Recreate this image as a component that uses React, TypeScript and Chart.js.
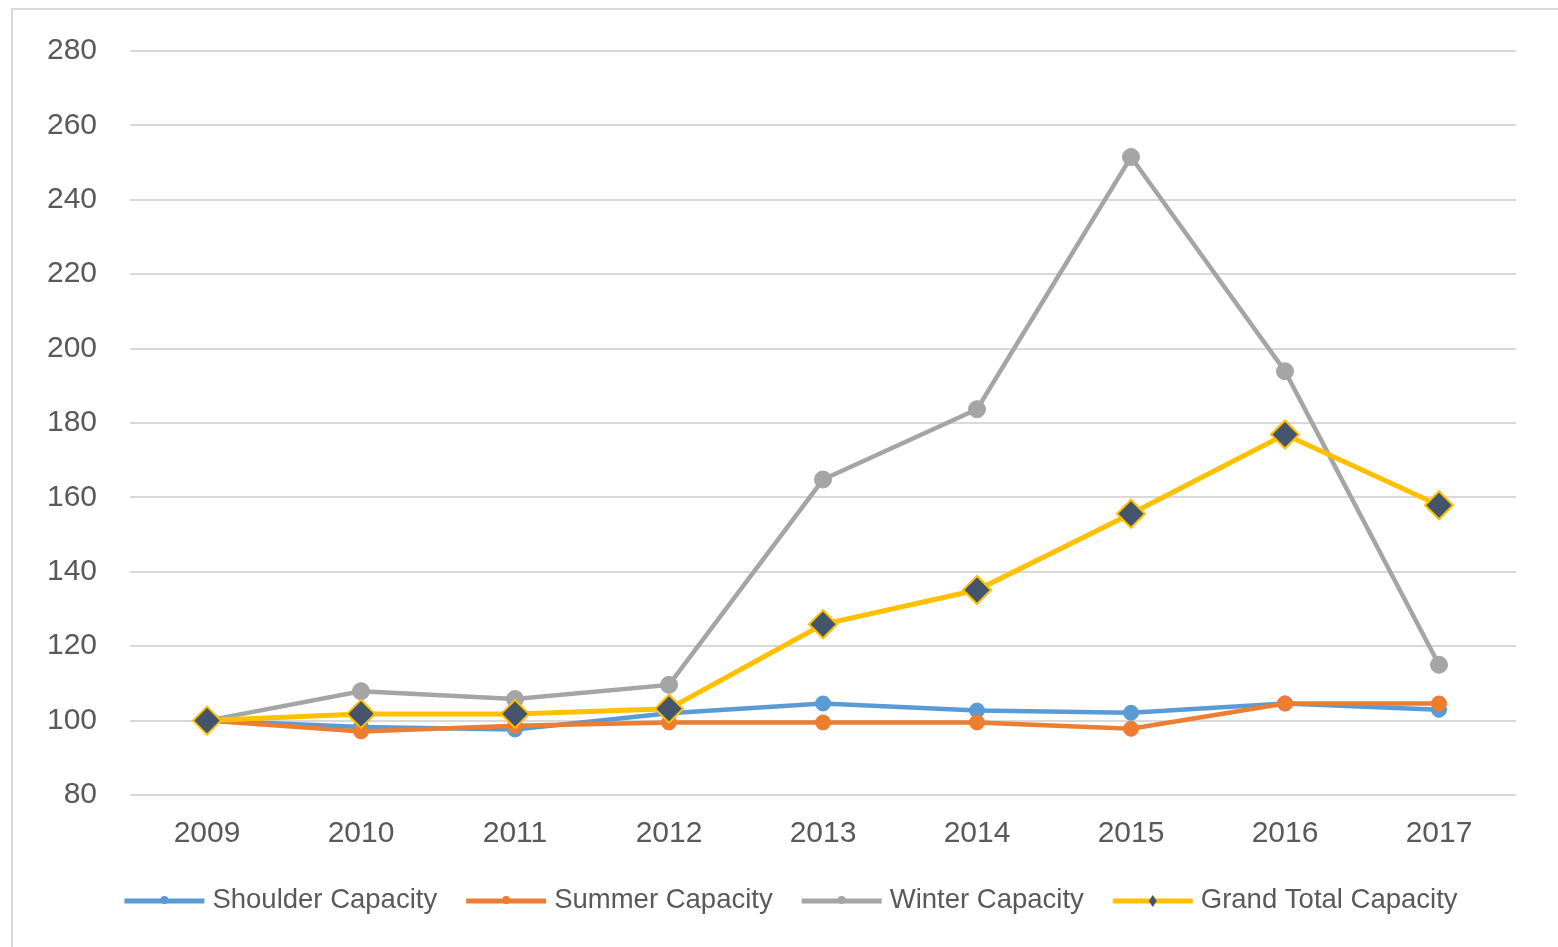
import React, { useEffect, useRef } from "react";
import { Chart, registerables } from "chart.js";

Chart.register(...registerables);

const years = ["2009", "2010", "2011", "2012", "2013", "2014", "2015", "2016", "2017"];
const shoulderCapacity = [100, 98.3, 97.6, 102.0, 104.6, 102.7, 102.1, 104.6, 102.9];
const summerCapacity = [100, 97.1, 98.6, 99.5, 99.5, 99.5, 97.8, 104.6, 104.6];
const winterCapacity = [100, 107.9, 105.8, 109.6, 164.8, 183.7, 251.5, 193.9, 115.0];
const grandTotalCapacity = [100, 101.8, 101.8, 103.2, 125.9, 135.1, 155.6, 176.9, 157.9];
const yMin = 80;
const yMax = 280;
const yStep = 20;

const FONT = "'Liberation Sans', Arial, sans-serif";
const TEXT = "#595959";

const legendPlugin = {
  id: "excelLegend",
  afterDraw(chart: any) {
    const ctx = chart.ctx as CanvasRenderingContext2D;
    const ds = chart.data.datasets as any[];
    const items = [...ds].sort((a, b) => a.legendIndex - b.legendIndex);
    ctx.save();
    ctx.font = `27.5px ${FONT}`;
    const lineLen = 80;
    const gap = 8;
    const itemGap = 29;
    const widths = items.map((d) => lineLen + gap + ctx.measureText(d.label).width);
    const total = widths.reduce((a, b) => a + b, 0) + itemGap * (items.length - 1);
    let x = 791 - total / 2;
    const y = 900;
    items.forEach((d, i) => {
      ctx.strokeStyle = d.borderColor;
      ctx.lineWidth = 5;
      ctx.beginPath();
      ctx.moveTo(x, y + 1);
      ctx.lineTo(x + lineLen, y + 1);
      ctx.stroke();
      const cx = x + lineLen / 2;
      ctx.fillStyle = d.pointBackgroundColor;
      if (d.pointStyle === "rectRot") {
        ctx.beginPath();
        ctx.moveTo(cx, y - 5);
        ctx.lineTo(cx + 4, y + 1);
        ctx.lineTo(cx, y + 7);
        ctx.lineTo(cx - 4, y + 1);
        ctx.closePath();
        ctx.fill();
      } else {
        ctx.beginPath();
        ctx.arc(cx, y, 4, 0, Math.PI * 2);
        ctx.fill();
      }
      ctx.fillStyle = TEXT;
      ctx.textBaseline = "middle";
      ctx.textAlign = "left";
      ctx.fillText(d.label, x + lineLen + gap, y);
      x += widths[i] + itemGap;
    });
    ctx.restore();
  },
};

export default function App() {
  const ref = useRef<HTMLCanvasElement | null>(null);

  useEffect(() => {
    document.body.style.overflow = "hidden";
    if (!ref.current) return;
    const chart = new Chart(ref.current, {
      type: "line",
      data: {
        labels: years,
        datasets: [
          {
            label: "Shoulder Capacity",
            data: shoulderCapacity,
            borderColor: "#5b9bd5",
            backgroundColor: "#5b9bd5",
            pointBackgroundColor: "#5b9bd5",
            pointBorderColor: "#5b9bd5",
            borderWidth: 4.5,
            pointRadius: 7.5,
            pointBorderWidth: 1,
            pointStyle: "circle",
            order: 3,
            legendIndex: 0,
          } as any,
          {
            label: "Summer Capacity",
            data: summerCapacity,
            borderColor: "#ed7d31",
            backgroundColor: "#ed7d31",
            pointBackgroundColor: "#ed7d31",
            pointBorderColor: "#ed7d31",
            borderWidth: 4.5,
            pointRadius: 7.5,
            pointBorderWidth: 1,
            pointStyle: "circle",
            order: 2,
            legendIndex: 1,
          } as any,
          {
            label: "Winter Capacity",
            data: winterCapacity,
            borderColor: "#a5a5a5",
            backgroundColor: "#a5a5a5",
            pointBackgroundColor: "#a5a5a5",
            pointBorderColor: "#a5a5a5",
            borderWidth: 4.5,
            pointRadius: 8.5,
            pointBorderWidth: 1,
            pointStyle: "circle",
            order: 1,
            legendIndex: 2,
          } as any,
          {
            label: "Grand Total Capacity",
            data: grandTotalCapacity,
            borderColor: "#ffc000",
            backgroundColor: "#44546a",
            pointBackgroundColor: "#44546a",
            pointBorderColor: "#ffc000",
            borderWidth: 5,
            pointRadius: 14,
            pointBorderWidth: 2,
            pointStyle: "rectRot",
            order: 0,
            legendIndex: 3,
          } as any,
        ],
      },
      options: {
        responsive: false,
        animation: false,
        events: [],
        layout: { padding: { left: 0, right: 42, top: 47, bottom: 0 } },
        plugins: {
          legend: { display: false },
          tooltip: { enabled: false },
          title: { display: false },
        },
        scales: {
          x: {
            offset: true,
            grid: { display: false, drawTicks: false },
            border: { display: false },
            ticks: {
              color: TEXT,
              font: { family: FONT, size: 30 },
              padding: 21,
              maxRotation: 0,
            },
            afterFit(scale: any) {
              scale.height = 947 - 795;
            },
          },
          y: {
            min: yMin,
            max: yMax,
            grid: { color: "#d9d9d9", lineWidth: 2, drawTicks: false },
            border: { display: false },
            ticks: {
              stepSize: yStep,
              color: TEXT,
              font: { family: FONT, size: 30 },
              padding: 33,
            },
            afterFit(scale: any) {
              scale.width = 130;
            },
          },
        },
      },
      plugins: [legendPlugin],
    });
    return () => chart.destroy();
  }, []);

  return (
    <div
      style={{
        position: "fixed",
        left: 0,
        top: 0,
        width: 1558,
        height: 947,
        overflow: "hidden",
        background: "#ffffff",
      }}
    >
      <div
        style={{
          position: "absolute",
          left: 11,
          top: 8,
          width: 1600,
          height: 1000,
          borderLeft: "2px solid #d9d9d9",
          borderTop: "2px solid #d9d9d9",
        }}
      />
      <canvas
        ref={ref}
        width={1558}
        height={947}
        style={{ position: "absolute", left: 0, top: 0, width: 1558, height: 947 }}
      />
    </div>
  );
}
